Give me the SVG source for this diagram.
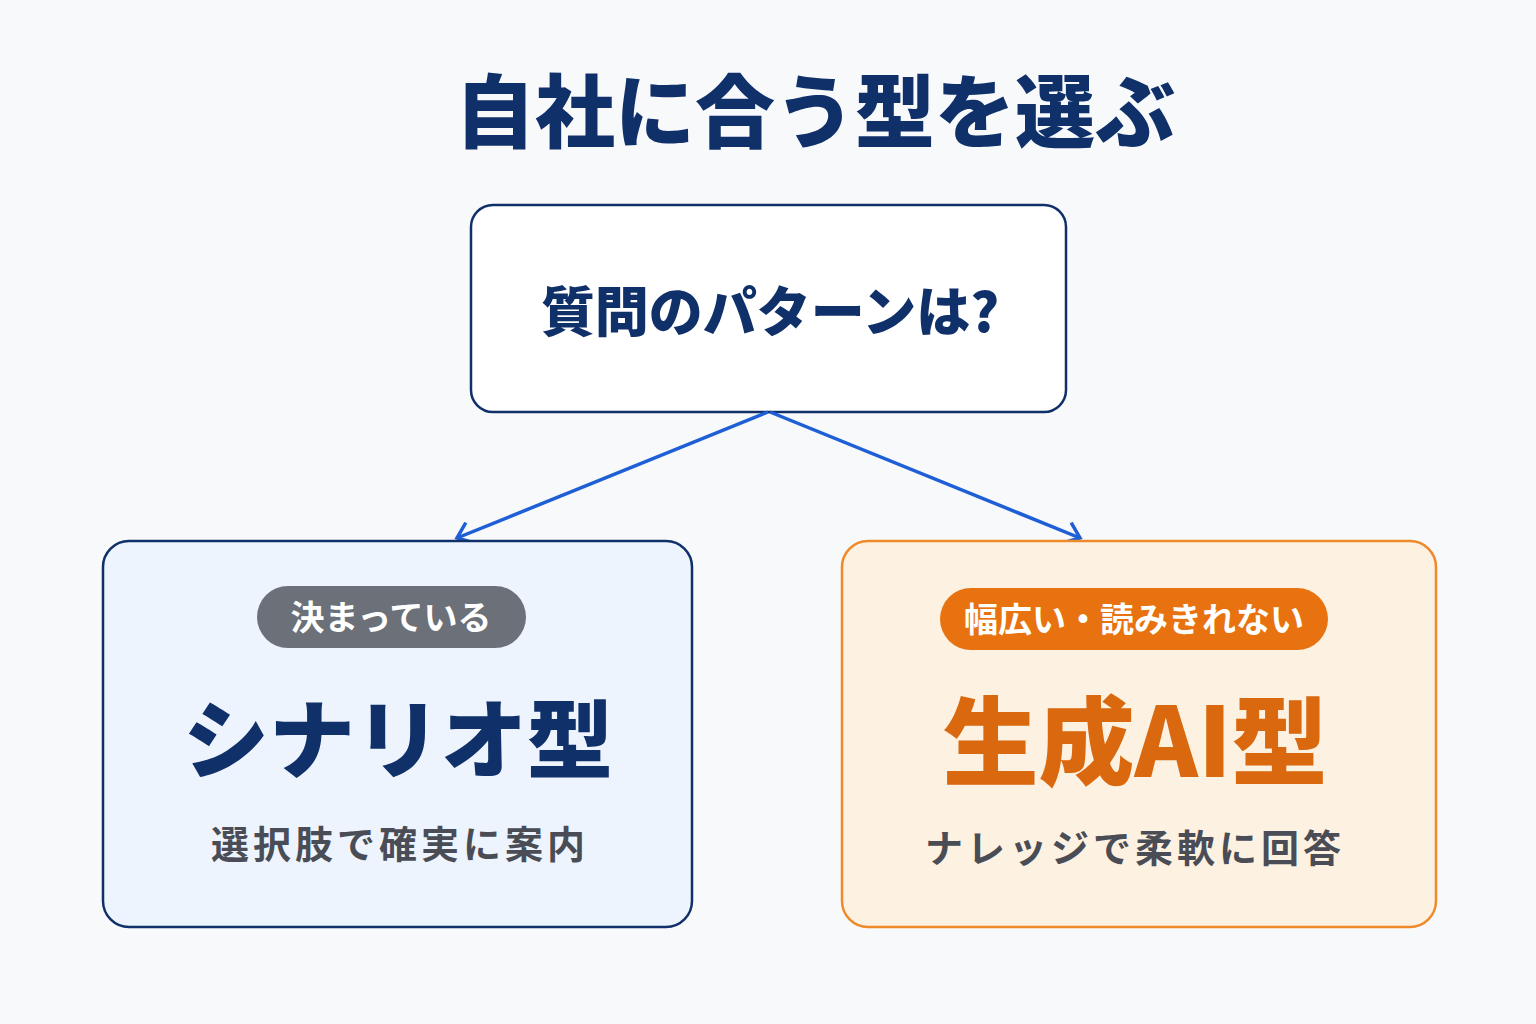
<svg xmlns="http://www.w3.org/2000/svg" width="1536" height="1024" viewBox="0 0 1536 1024">
<defs>
<style>
text{font-family:"Noto Sans CJK JP","Noto Sans",sans-serif;text-anchor:middle}
.t{font-weight:900;fill:#10306a}
.sub{font-size:38px;font-weight:700;fill:#4a4d55;letter-spacing:4px}
.pill{font-size:34px;font-weight:700;fill:#fff}
.c{stroke:#1f5fd6;stroke-width:3.5;fill:none}
</style>
<marker id="a" markerWidth="24" markerHeight="24" refX="20" refY="12" orient="auto" markerUnits="userSpaceOnUse"><path d="M6 1 L20 12 L6 23" fill="none" stroke="#1f5fd6" stroke-width="3.5"/></marker>
</defs>
<rect width="1536" height="1024" fill="#f8f9fb"/>
<text x="815" y="141" class="t" font-size="80">自社に合う型を選ぶ</text>
<g id="q"><rect x="471" y="205" width="595" height="207" rx="22" fill="#fff" stroke="#10306a" stroke-width="2.5"/>
<text x="770" y="332" class="t" font-size="54">質問のパターンは?</text></g>
<g id="connectors"><path class="c" d="M768 412 L457 538" marker-end="url(#a)"/><path class="c" d="M770 412 L1080 538" marker-end="url(#a)"/></g>
<g id="scenario"><rect x="103" y="541" width="589" height="386" rx="26" fill="#edf4fd" stroke="#10306a" stroke-width="2.5"/>
<rect x="257" y="586" width="269" height="62" rx="31" fill="#6b7079"/>
<text x="391" y="630" class="pill">決まっている</text>
<text x="398" y="772" class="t" font-size="86">シナリオ型</text>
<text x="400" y="858" class="sub">選択肢で確実に案内</text></g>
<g id="ai"><rect x="842" y="541" width="594" height="386" rx="26" fill="#fdf1e1" stroke="#ef8a2a" stroke-width="2.5"/>
<rect x="940" y="588" width="388" height="62" rx="31" fill="#e8720f"/>
<text x="1134" y="632" class="pill">幅広い・読みきれない</text>
<text x="1135" y="777" font-size="96" font-weight="900" fill="#d9680e">生成AI型</text>
<text x="1135" y="862" class="sub" letter-spacing="2">ナレッジで柔軟に回答</text></g>
</svg>
